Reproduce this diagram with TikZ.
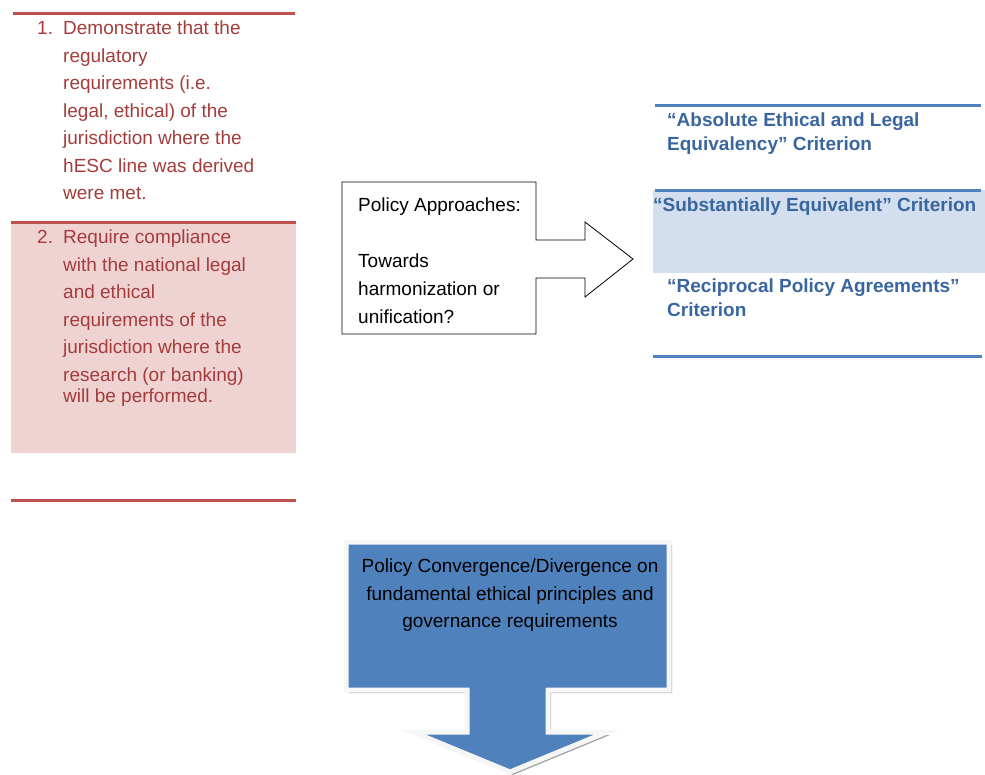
\documentclass[tikz,border=0pt]{standalone}
\usepackage{fontspec}
\setmainfont{Liberation Sans}

\definecolor{redline}{HTML}{C0504D}
\definecolor{redtext}{HTML}{A43C3B}
\definecolor{pinkfill}{HTML}{EFD3D3}
\definecolor{blueline}{HTML}{4F81BD}
\definecolor{bluetext}{HTML}{3A66A0}
\definecolor{bluefill}{HTML}{D3DFEE}

\begin{document}
\begin{tikzpicture}[x=1pt,y=-1pt,
   redtxt/.style={anchor=north west,inner sep=0pt,align=left,text=redtext,
      font=\fontsize{19}{27.5}\selectfont},
   bluetxt/.style={anchor=north west,inner sep=0pt,align=left,text=bluetext,
      font=\fontsize{19}{24}\selectfont\bfseries},
   blacktxt/.style={inner sep=0pt,text=black,font=\fontsize{19}{28}\selectfont}]
   \useasboundingbox (0,0) rectangle (985,774);

   % left column: the two options
   \fill[pinkfill] (11,222) rectangle (296,453);
   \draw[redline,line width=3pt] (13,13) -- (295,13);
   \draw[redline,line width=3pt] (11,222) -- (296,222);
   \draw[redline,line width=3pt] (11,500) -- (296,500);
   \node[redtxt] (num1) at (37,21) {1.};
   \node[redtxt] (opt1) at (63,21) {Demonstrate that the\\regulatory\\requirements (i.e.\\legal, ethical) of the\\jurisdiction where the\\hESC line was derived\\were met.};
   \node[redtxt] (num2) at (37,230) {2.};
   \node[redtxt] (opt2) at (63,230) {Require compliance\\with the national legal\\and ethical\\requirements of the\\jurisdiction where the\\research (or banking)\\[-6.5pt]will be performed.};

   % middle: callout with arrow to the right
   \draw[line width=0.8pt,fill=white] (342,182) -- (536,182) -- (536,240) -- (585,240)
      -- (585,222) -- (633,259) -- (585,297) -- (585,278) -- (536,278) -- (536,334)
      -- (342,334) -- cycle;
   \node[blacktxt,anchor=north west,align=left] (policy) at (358,198)
      {Policy Approaches:\\[28pt]Towards\\harmonization or\\unification?};

   % right column: the three criteria
   \fill[bluefill] (653,190) rectangle (985,273);
   \draw[blueline,line width=3pt] (655,105) -- (981,105);
   \draw[blueline,line width=3pt] (655,190) -- (981,190);
   \draw[blueline,line width=3pt] (653,356) -- (982,356);
   \node[bluetxt] (crit1) at (667,113) {“Absolute Ethical and Legal\\Equivalency” Criterion};
   \node[bluetxt] (crit2) at (653,198) {“Substantially Equivalent” Criterion};
   \node[bluetxt] (crit3) at (667,279) {“Reciprocal Policy Agreements”\\Criterion};

   % bottom: down arrow callout with shadow
   \fill[gray!70,shift={(3,3)}] (346,542) -- (669,542) -- (669,690) -- (548,690) -- (548,732)
      -- (607,732) -- (510,772) -- (413,732) -- (467,732) -- (467,690) -- (346,690) -- cycle;
   \draw[white!93!gray,line width=5pt,fill=blueline] (346,542) -- (669,542) -- (669,690)
      -- (548,690) -- (548,732) -- (607,732) -- (510,772) -- (413,732) -- (467,732)
      -- (467,690) -- (346,690) -- cycle;
   \node[blacktxt,anchor=north,align=center,font=\fontsize{19}{27.5}\selectfont] (conv) at (510,559)
      {Policy Convergence/Divergence on\\fundamental ethical principles and\\governance requirements};
\end{tikzpicture}
\end{document}
